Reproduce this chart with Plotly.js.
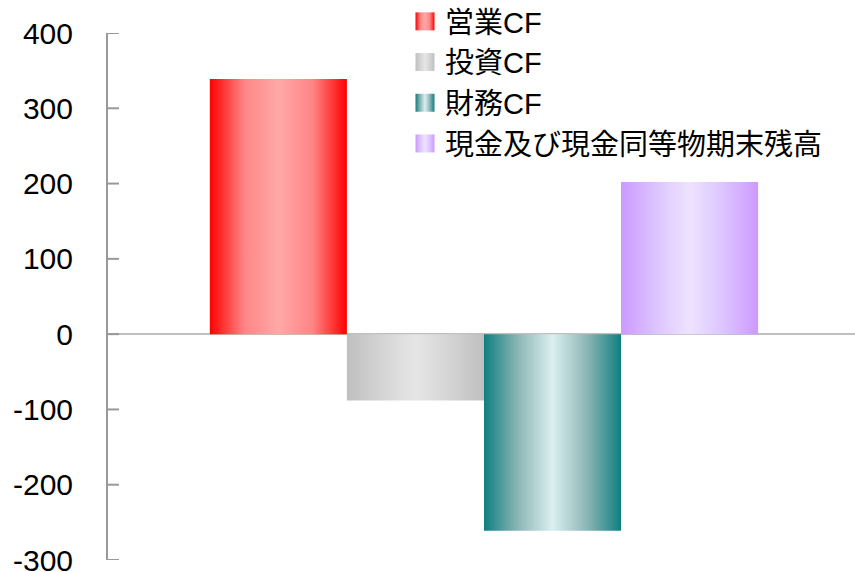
<!DOCTYPE html>
<html>
<head>
<meta charset="utf-8">
<script src="https://cdn.plot.ly/plotly-3.0.1.min.js"></script>
<style>html,body{margin:0;padding:0;background:#fff;}#chart{width:855px;height:572px;}</style>
</head>
<body>
<div id="chart"></div>
<script>
const category = ['FY'];
const seriesNames = ['営業CF', '投資CF', '財務CF', '現金及び現金同等物期末残高'];
const seriesValues = [[339], [-88], [-261], [202]];
const edgeColors = ['#ff0000', '#bfbfbf', '#0f7f7f', '#cc99ff'];
const midColors = ['#ff8585', '#d4d4d4', '#8db6b6', '#dcc4ff'];
const centerColors = ['#ffa8a8', '#e6e6e6', '#dbefef', '#ede3ff'];
const yTicks = [-300, -200, -100, 0, 100, 200, 300, 400];

const FONT = '"Liberation Sans", Arial, "Noto Sans CJK JP", sans-serif';
const PLOT_W = 855 - 108;
const LEGEND_ROW = 40.7;
const LEGEND_SHIFT = -4;

const traces = seriesNames.map((name, i) => ({
  type: 'bar',
  name: name,
  x: category,
  y: seriesValues[i],
  marker: {color: edgeColors[i], line: {width: 0}},
  hoverinfo: 'name+y'
}));

// inside tick marks on the y axis, one per tick value
const tickShapes = yTicks.map(v => ({
  type: 'line', xref: 'paper', yref: 'y', layer: 'above',
  x0: 0, x1: 11 / PLOT_W, y0: v, y1: v,
  line: {color: '#999999', width: 2}
}));

const layout = {
  width: 855, height: 572,
  margin: {l: 108, r: 0, t: 33, b: 12, autoexpand: false},
  paper_bgcolor: '#ffffff', plot_bgcolor: '#ffffff',
  barmode: 'group', bargap: 0.266, bargroupgap: 0,
  font: {family: FONT, size: 29, color: '#000'},
  xaxis: {
    range: [-0.5033, 0.4967], showticklabels: false, ticks: '',
    showline: false, showgrid: false, zeroline: false, fixedrange: true, automargin: false
  },
  yaxis: {
    range: [-300, 400], tickvals: yTicks, ticktext: yTicks.map(String),
    showgrid: false, zeroline: true, zerolinecolor: '#c0c0c0', zerolinewidth: 2,
    showline: true, linecolor: '#999999', linewidth: 2,
    ticks: '', ticklabelstandoff: 27, ticklabelshift: 2.5, ticklabeloverflow: 'allow',
    tickfont: {family: FONT, size: 30, color: '#000'}, fixedrange: true, automargin: false
  },
  shapes: tickShapes,
  showlegend: true,
  legend: {
    xref: 'container', yref: 'container',
    x: 405 / 855, xanchor: 'left', y: 1, yanchor: 'top',
    bgcolor: 'rgba(0,0,0,0)', borderwidth: 0,
    font: {family: FONT, size: 29, color: '#000'},
    traceorder: 'normal'
  }
};

function parseTranslate(el) {
  const m = /translate\(\s*([-\d.e]+)(?:[\s,]+([-\d.e]+))?\s*\)/.exec(el.getAttribute('transform') || '');
  return m ? [parseFloat(m[1]), m[2] !== undefined ? parseFloat(m[2]) : 0] : [0, 0];
}

function postProcess(gd) {
  const svg = gd.querySelector('svg.main-svg');
  let defs = svg.querySelector('defs');
  if (!defs) { defs = document.createElementNS('http://www.w3.org/2000/svg', 'defs'); svg.prepend(defs); }
  seriesNames.forEach((n, i) => {
    const id = 'barGrad' + i;
    if (!document.getElementById(id)) {
      const g = document.createElementNS('http://www.w3.org/2000/svg', 'linearGradient');
      g.setAttribute('id', id);
      g.setAttribute('x1', '0'); g.setAttribute('x2', '1');
      g.setAttribute('y1', '0'); g.setAttribute('y2', '0');
      const stops = [[0, edgeColors[i]], [0.25, midColors[i]], [0.5, centerColors[i]], [0.75, midColors[i]], [1, edgeColors[i]]];
      stops.forEach(([o, c]) => {
        const s = document.createElementNS('http://www.w3.org/2000/svg', 'stop');
        s.setAttribute('offset', o); s.setAttribute('stop-color', c);
        g.appendChild(s);
      });
      defs.appendChild(g);
    }
  });
  gd.querySelectorAll('.barlayer .trace').forEach((t, i) => {
    t.querySelectorAll('path').forEach(p => { p.style.fill = 'url(#barGrad' + i + ')'; });
  });
  const items = Array.from(gd.querySelectorAll('.legend g.traces'));
  items.forEach((t, i) => {
    t.querySelectorAll('.legendpoints path').forEach(p => {
      p.setAttribute('d', 'M9.5,9H-9.5V-9H9.5Z');
      p.style.fill = 'url(#barGrad' + i + ')';
    });
  });
  // tighten legend row spacing to match the reference (CSS transform overrides the attribute)
  if (items.length) {
    const base = parseTranslate(items[0]);
    items.forEach((t, i) => {
      const xi = parseTranslate(t)[0];
      const yi = base[1] + i * LEGEND_ROW;
      t.style.transform = 'translate(' + xi + 'px,' + yi + 'px)';
    });
  }
  const lg = gd.querySelector('g.legend');
  if (lg) {
    const [lx, ly] = parseTranslate(lg);
    lg.style.transform = 'translate(' + lx + 'px,' + (ly + LEGEND_SHIFT) + 'px)';
  }
}

Plotly.newPlot('chart', traces, layout, {displayModeBar: false, staticPlot: true}).then(gd => {
  postProcess(gd);
  gd.on('plotly_afterplot', () => postProcess(gd));
  setTimeout(() => postProcess(gd), 50);
});
</script>
</body>
</html>
